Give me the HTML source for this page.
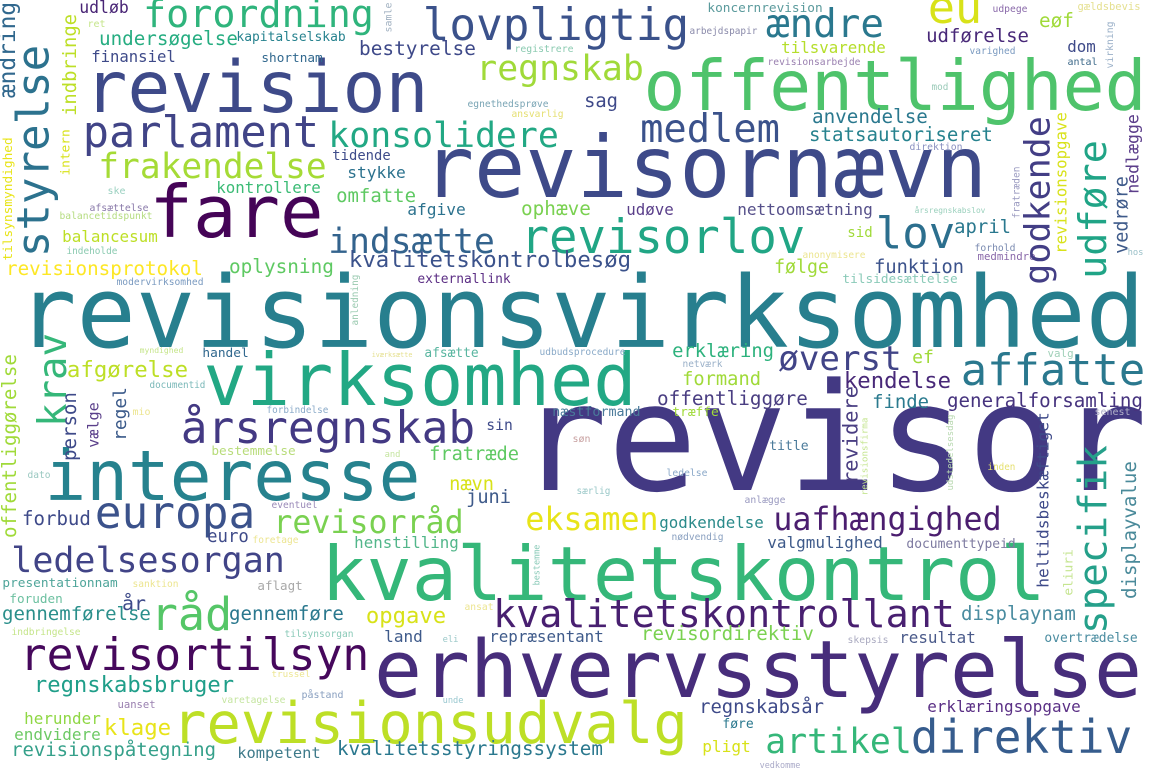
<!DOCTYPE html>
<html><head><meta charset="utf-8"><title>Word cloud</title>
<style>
html,body{margin:0;padding:0;background:#fff;}
svg{display:block;}
text{font-family:"DejaVu Sans Mono","Liberation Mono",monospace;}
</style></head>
<body>
<svg id="cloud" width="1155" height="770" viewBox="0 0 1155 770" xmlns="http://www.w3.org/2000/svg">
<rect width="1155" height="770" fill="#ffffff"/>
</svg>
<script>
// [word, x, y, width, color, vertical]
const words = [
["revisionsvirksomhed",22,347,1118,"#277f8e",0],
["revisor",525,490,615,"#433983",0],
["revisornævn",427,197,556,"#3e4a89",0],
["erhvervsstyrelse",378,697,760,"#472d7b",0],
["kvalitetskontrol",325,600,717,"#35b779",0],
["offentlighed",647,110,496,"#4ec36b",0],
["revision",88,112,337,"#3e4a89",0],
["virksomhed",207,405,426,"#22a884",0],
["interesse",48,500,369,"#26828e",0],
["revisionsudvalg",175,743,510,"#bddf26",0],
["fare",153,237,167,"#450457",0],
["revisortilsyn",22,670,345,"#46085c",0],
["kvalitetskontrollant",495,627,458,"#481f70",0],
["årsregnskab",183,443,290,"#433983",0],
["revisorlov",523,253,280,"#21a685",0],
["lovpligtig",425,40,262,"#3b528b",0],
["forordning",145,27,227,"#2fb47c",0],
["parlament",85,147,232,"#414487",0],
["konsolidere",330,147,227,"#22a884",0],
["frakendelse",100,178,225,"#a5db36",0],
["regnskab",478,80,164,"#a0da39",0],
["medlem",642,142,136,"#3b528b",0],
["ændre",768,37,114,"#2a788e",0],
["eu",930,23,50,"#d8e219",0],
["lov",878,248,75,"#2c6f8e",0],
["affatte",963,385,180,"#2a788e",0],
["europa",97,528,156,"#3b528b",0],
["råd",153,630,77,"#55c667",0],
["direktiv",913,753,217,"#365c8d",0],
["artikel",767,753,143,"#35b779",0],
["ledelsesorgan",13,572,270,"#414487",0],
["indsætte",330,253,163,"#33638d",0],
["øverst",780,370,120,"#414487",0],
["uafhængighed",775,530,225,"#4b1e6f",0],
["revisorråd",275,533,187,"#7ad151",0],
["eksamen",527,530,130,"#e8e419",0],
["undersøgelse",100,45,137,"#26ad81",0],
["kapitalselskab",237,41,108,"#26828e",0],
["finansiel",92,62,83,"#3e4a89",0],
["shortnam",262,62,60,"#31688e",0],
["bestyrelse",360,55,115,"#3e4989",0],
["udløb",80,13,48,"#482475",0],
["tidende",333,160,57,"#3e4c8a",0],
["stykke",348,178,57,"#2c728e",0],
["kontrollere",217,193,103,"#3bbb75",0],
["omfatte",337,202,78,"#5ec962",0],
["balancesum",63,242,94,"#bddf26",0],
["revisionsprotokol",7,275,195,"#fde725",0],
["oplysning",230,273,103,"#5ec962",0],
["kvalitetskontrolbesøg",350,267,280,"#3b528b",0],
["afgørelse",68,377,119,"#bddf26",0],
["handel",203,357,45,"#31688e",0],
["afgive",408,215,57,"#2c728e",0],
["ophæve",522,215,68,"#7ad151",0],
["udøve",627,215,46,"#5a3f8a",0],
["nettoomsætning",738,215,134,"#56508a",0],
["externallink",418,283,92,"#5c2f85",0],
["følge",775,273,53,"#a0da39",0],
["afsætte",425,357,53,"#59b6a0",0],
["erklæring",673,357,100,"#2db27d",0],
["formand",683,385,77,"#a0da39",0],
["sag",585,107,32,"#3e4989",0],
["eøf",1040,27,33,"#a0da39",0],
["udførelse",927,42,101,"#482878",0],
["tilsvarende",782,53,103,"#b5de2b",0],
["dom",1068,52,27,"#3e4a89",0],
["antal",1068,65,29,"#3e6a8a",0],
["anvendelse",813,123,114,"#2a788e",0],
["statsautoriseret",810,141,182,"#26828e",0],
["april",955,233,55,"#2a788e",0],
["sid",848,237,24,"#a0da39",0],
["funktion",875,273,88,"#3b528b",0],
["ef",913,363,20,"#a0da39",0],
["kendelse",845,388,105,"#482878",0],
["generalforsamling",948,407,194,"#46337e",0],
["finde",873,408,55,"#2a7a8e",0],
["title",770,450,38,"#4a7a9a",0],
["valgmulighed",768,548,114,"#3e5a8a",0],
["documenttypeid",907,548,108,"#7d7aa0",0],
["displaynam",962,620,113,"#4a8ca0",0],
["resultat",900,643,75,"#4a5a8a",0],
["overtrædelse",1045,642,92,"#4a8ca0",0],
["regnskabsår",700,713,123,"#3e4a89",0],
["erklæringsopgave",928,712,152,"#5a2f85",0],
["føre",723,728,30,"#2a788e",0],
["pligt",703,752,47,"#d8e219",0],
["offentliggøre",658,405,149,"#4a3e82",0],
["næstformand",553,416,87,"#4a7a9a",0],
["træffe",673,416,45,"#a0da39",0],
["sin",487,430,25,"#3e4a89",0],
["fratræde",430,460,88,"#5ec962",0],
["nævn",450,490,43,"#d8e219",0],
["juni",467,503,43,"#3e5a8a",0],
["godkendelse",660,528,103,"#2a8a8a",0],
["henstilling",355,548,103,"#52b68a",0],
["forbud",23,525,67,"#3e4a89",0],
["euro",208,542,40,"#3e4a89",0],
["bestemmelse",212,455,83,"#b8dc7a",0],
["presentationnam",3,587,114,"#4fa59a",0],
["foruden",10,603,52,"#6cc0a0",0],
["år",123,610,22,"#3e4a89",0],
["gennemførelse",3,620,147,"#2a8f8b",0],
["gennemføre",230,620,113,"#2a788e",0],
["opgave",367,623,78,"#d8e219",0],
["land",385,642,37,"#3e5a8a",0],
["repræsentant",490,642,113,"#3e5a8a",0],
["revisordirektiv",642,640,171,"#7ad151",0],
["regnskabsbruger",35,692,198,"#1f9e89",0],
["herunder",25,724,75,"#8fd744",0],
["klage",105,735,65,"#e8e419",0],
["endvidere",15,740,85,"#6cc964",0],
["revisionspåtegning",12,756,203,"#35a08a",0],
["kompetent",238,758,82,"#3e7a8a",0],
["kvalitetsstyringssystem",338,755,264,"#2a788e",0],
["koncernrevision",708,12,114,"#5a9a9c",0],
["arbejdspapir",690,34,67,"#8a8aaa",0],
["registrere",515,52,58,"#8acab0",0],
["egnethedsprøve",468,107,80,"#7aa5b5",0],
["ansvarlig",512,117,51,"#e5df70",0],
["ret",88,27,17,"#c5e58a",0],
["udpege",993,12,34,"#8a6aaa",0],
["gældsbevis",1078,10,62,"#e5e090",0],
["varighed",970,54,45,"#7a9ac0",0],
["revisionsarbejde",768,65,92,"#9a80b0",0],
["mod",932,90,16,"#9acab8",0],
["direktion",910,150,52,"#8a90c0",0],
["årsregnskabslov",915,213,70,"#9ad0bc",0],
["anonymisere",803,258,62,"#ece590",0],
["forhold",975,251,40,"#7a8ab0",0],
["medmindre",978,260,57,"#8a6aaa",0],
["hos",1128,255,15,"#9ac0c8",0],
["tilsidesættelse",843,283,114,"#8acab8",0],
["valg",1048,357,25,"#a0d0b8",0],
["ske",108,194,17,"#9ad0c0",0],
["afsættelse",90,211,58,"#8a7aaa",0],
["balancetidspunkt",60,219,92,"#b5dc80",0],
["indeholde",67,254,50,"#8acab0",0],
["modervirksomhed",117,285,86,"#7a9ac0",0],
["myndighed",140,353,43,"#c5e58a",0],
["iværksætte",372,357,40,"#e5e090",0],
["udbudsprocedure",540,355,85,"#8aaac8",0],
["netværk",683,367,39,"#9ab0c8",0],
["documentid",150,388,55,"#7ab8b8",0],
["mio",133,415,17,"#ece590",0],
["forbindelse",267,413,61,"#8aaac8",0],
["dato",28,478,22,"#9ac8c0",0],
["eventuel",272,508,45,"#9a8ab8",0],
["foretage",253,543,45,"#ece590",0],
["sanktion",133,587,45,"#ece590",0],
["aflagt",258,590,44,"#a8a8a8",0],
["indbringelse",12,635,68,"#c5e58a",0],
["tilsynsorgan",285,637,68,"#8acab8",0],
["ansat",465,610,28,"#ece590",0],
["eli",443,642,15,"#9ac8c8",0],
["skepsis",848,643,40,"#aaaac0",0],
["trussel",272,677,38,"#ece590",0],
["påstand",302,698,41,"#8aa0c0",0],
["varetagelse",222,703,63,"#c5e5a0",0],
["uanset",118,708,37,"#9a80b0",0],
["unde",443,703,20,"#9ac8d0",0],
["vedkomme",760,768,40,"#aaaac8",0],
["søn",573,442,17,"#c8a0a0",0],
["særlig",577,494,33,"#9ac8c8",0],
["ledelse",667,476,40,"#8aa8c8",0],
["nødvendig",672,540,51,"#8aa0c0",0],
["anlægge",745,503,40,"#9a9ac0",0],
["senest",1095,415,35,"#b0b0c8",0],
["inden",988,470,27,"#e5e070",0],
["and",385,457,15,"#c5e5a0",0],
["styrelse",58,255,208,"#2c728e",1],
["ændring",20,97,94,"#31688e",1],
["indbringe",80,115,100,"#bddf26",1],
["tilsynsmyndighed",15,260,122,"#e8e419",1],
["intern",70,175,45,"#d8e219",1],
["krav",67,425,90,"#35b779",1],
["offentliggørelse",20,537,182,"#a0da39",1],
["godkende",1057,283,165,"#433e85",1],
["revisionsopgave",1070,253,140,"#d8e219",1],
["udføre",1107,277,135,"#20a486",1],
["nedlægge",1142,193,78,"#5b3d8a",1],
["vedrøre",1128,253,76,"#3e5a8a",1],
["fratræden",1020,218,51,"#9a9ac0",1],
["virkning",1115,68,46,"#9ab0c8",1],
["samle",392,32,29,"#a0b0c0",1],
["anledning",360,325,50,"#9acab0",1],
["person",80,460,67,"#3e4a89",1],
["vælge",102,447,44,"#5a3f8a",1],
["regel",130,440,52,"#3b5a8a",1],
["revidere",858,483,96,"#4a3e82",1],
["revisionsfirma",868,495,77,"#c5e590",1],
["udstedelsesdag",955,490,75,"#b8d8b0",1],
["heltidsbeskæftiget",1052,587,174,"#3e4a89",1],
["specifik",1115,632,185,"#25a08a",1],
["displayvalue",1140,598,136,"#4a8a9a",1],
["eliuri",1073,595,45,"#c5e590",1],
["bestemme",540,585,40,"#8acab8",1]
];

const svg = document.getElementById('cloud');
const NS = 'http://www.w3.org/2000/svg';
words.forEach(function(w){
  const txt = w[0], x = w[1], y = w[2], len = w[3], col = w[4], vert = w[5];
  const n = Array.from(txt).length;
  const s = len / (n * 0.602 - 0.1);
  const t = document.createElementNS(NS, 'text');
  t.textContent = txt;
  t.setAttribute('font-size', s.toFixed(2));
  t.setAttribute('fill', col);
  t.setAttribute('textLength', (len + 0.1 * s).toFixed(1));
  t.setAttribute('lengthAdjust', 'spacingAndGlyphs');
  if (!vert) {
    t.setAttribute('x', (x - 0.05 * s).toFixed(1));
    t.setAttribute('y', y);
  } else {
    const desc = /[gpyjq]/.test(txt) ? 0.22 : 0.03;
    const bx = x - desc * s;
    const by = y + 0.05 * s;
    t.setAttribute('x', 0);
    t.setAttribute('y', 0);
    t.setAttribute('transform', 'translate(' + bx.toFixed(1) + ',' + by.toFixed(1) + ') rotate(-90)');
  }
  
  
  svg.appendChild(t);
});
</script>
</body></html>
